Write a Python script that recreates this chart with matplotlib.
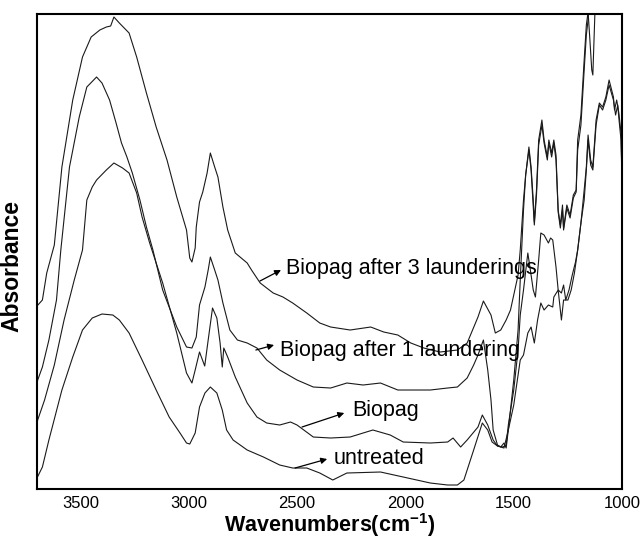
import matplotlib
matplotlib.use('Agg')
import matplotlib.pyplot as plt

plt.rcParams['font.family'] = ['Liberation Sans', 'DejaVu Sans']
plt.rcParams['mathtext.fontset'] = 'custom'
plt.rcParams['mathtext.rm'] = 'Liberation Sans'
plt.rcParams['mathtext.bf'] = 'Liberation Sans:bold'

# FTIR spectra (wavenumber in cm-1, absorbance in arbitrary units)
wn_laund3 = [3700, 3675, 3655, 3620, 3585, 3535, 3490, 3450, 3410, 3380, 3360, 3345, 3320, 3275,
             3240, 3195, 3150, 3100, 3055, 3010, 2995, 2985, 2970, 2965, 2950, 2935, 2915, 2900,
             2880, 2865, 2842, 2820, 2785, 2730, 2710, 2670, 2610, 2565, 2520, 2455, 2395, 2345,
             2255, 2160, 2100, 2035, 1975, 1915, 1840, 1760, 1715, 1665, 1640, 1605, 1585, 1560,
             1535, 1515, 1500, 1480, 1470, 1455, 1445, 1430, 1420, 1410, 1405, 1395, 1385, 1370,
             1360, 1345, 1338, 1325, 1315, 1305, 1295, 1285, 1275, 1270, 1255, 1240, 1225, 1212,
             1205, 1190, 1175, 1165, 1157, 1150, 1140, 1135, 1125, 1110, 1060, 1000]
ab_laund3 = [1.83, 1.89, 2.16, 2.44, 3.22, 3.89, 4.32, 4.52, 4.59, 4.62, 4.63, 4.72, 4.66, 4.56,
             4.32, 3.96, 3.62, 3.29, 2.92, 2.59, 2.31, 2.27, 2.41, 2.62, 2.87, 2.97, 3.16, 3.36,
             3.22, 3.12, 2.82, 2.59, 2.36, 2.26, 2.19, 2.06, 1.96, 1.92, 1.86, 1.76, 1.66, 1.62,
             1.59, 1.62, 1.57, 1.54, 1.46, 1.41, 1.37, 1.39, 1.46, 1.72, 1.88, 1.74, 1.56, 1.59,
             1.69, 1.79, 1.94, 2.14, 2.39, 2.89, 3.14, 3.42, 3.22, 2.89, 2.67, 2.99, 3.49, 3.69,
             3.49, 3.32, 3.49, 3.36, 3.49, 3.34, 2.79, 2.64, 2.84, 2.61, 2.84, 2.74, 2.94, 2.99,
             3.49, 3.74, 4.29, 4.64, 4.77, 4.54, 4.19, 4.14, 4.79, 5.20, 5.60, 5.00]

wn_laund1 = [3700, 3675, 3645, 3610, 3590, 3550, 3505, 3470, 3425, 3400, 3365, 3335, 3310, 3285,
             3260, 3225, 3195, 3165, 3120, 3055, 3010, 2985, 2965, 2950, 2925, 2910, 2900, 2880,
             2865, 2842, 2810, 2775, 2730, 2685, 2640, 2580, 2500, 2425, 2345, 2270, 2195, 2115,
             2035, 1965, 1885, 1805, 1760, 1715, 1685, 1665, 1640, 1620, 1605, 1595, 1575, 1560,
             1545, 1535, 1525, 1500, 1480, 1470, 1455, 1445, 1430, 1420, 1405, 1395, 1385, 1370,
             1360, 1345, 1338, 1325, 1315, 1305, 1295, 1285, 1275, 1270, 1255, 1240, 1225, 1212,
             1205, 1190, 1175, 1165, 1157, 1150, 1100, 1000]
ab_laund1 = [1.07, 1.22, 1.49, 1.89, 2.39, 3.22, 3.72, 4.02, 4.12, 4.06, 3.89, 3.66, 3.46, 3.32,
             3.16, 2.89, 2.62, 2.39, 1.99, 1.62, 1.42, 1.41, 1.52, 1.84, 2.02, 2.19, 2.32, 2.19,
             2.09, 1.86, 1.59, 1.49, 1.46, 1.41, 1.29, 1.19, 1.09, 1.02, 1.01, 1.06, 1.04, 1.06,
             0.99, 0.99, 0.99, 1.01, 1.02, 1.11, 1.24, 1.34, 1.49, 1.19, 0.89, 0.59, 0.44, 0.42,
             0.46, 0.41, 0.59, 1.09, 1.59, 2.09, 2.79, 3.14, 3.39, 3.19, 2.64, 2.94, 3.44, 3.64,
             3.46, 3.29, 3.46, 3.32, 3.46, 3.29, 2.77, 2.61, 2.79, 2.59, 2.81, 2.71, 2.91, 2.97,
             3.39, 3.64, 4.19, 4.54, 4.69, 4.95, 5.40, 5.20]

wn_biopag = [3700, 3665, 3620, 3575, 3528, 3490, 3470, 3445, 3425, 3380, 3345, 3305, 3275, 3240,
             3215, 3180, 3120, 3055, 3010, 2985, 2970, 2950, 2926, 2910, 2890, 2870, 2855, 2845,
             2838, 2820, 2785, 2730, 2685, 2640, 2580, 2530, 2500, 2425, 2345, 2255, 2150, 2070,
             2010, 1885, 1805, 1780, 1745, 1715, 1665, 1645, 1620, 1595, 1575, 1550, 1535, 1525,
             1500, 1480, 1470, 1455, 1435, 1420, 1410, 1400, 1385, 1375, 1360, 1340, 1330, 1320,
             1305, 1295, 1280, 1270, 1260, 1245, 1230, 1215, 1205, 1190, 1175, 1165, 1157, 1145,
             1135, 1120, 1105, 1090, 1075, 1060, 1040, 1035, 1025, 1015, 1005, 1000]
ab_biopag = [0.67, 0.89, 1.24, 1.69, 2.09, 2.39, 2.89, 3.02, 3.09, 3.19, 3.26, 3.21, 3.16, 2.96,
             2.72, 2.46, 2.06, 1.56, 1.16, 1.06, 1.19, 1.37, 1.23, 1.49, 1.81, 1.71, 1.46, 1.22,
             1.41, 1.32, 1.12, 0.86, 0.72, 0.66, 0.64, 0.67, 0.64, 0.52, 0.51, 0.52, 0.59, 0.54,
             0.47, 0.46, 0.47, 0.51, 0.42, 0.49, 0.62, 0.74, 0.64, 0.49, 0.43, 0.42, 0.44, 0.64,
             0.99, 1.39, 1.74, 1.99, 2.36, 2.14, 1.99, 1.92, 2.29, 2.56, 2.54, 2.46, 2.51, 2.49,
             2.22, 1.99, 1.96, 2.04, 1.89, 1.99, 2.14, 2.27, 2.39, 2.66, 2.99, 3.22, 3.54, 3.29,
             3.22, 3.69, 3.86, 3.82, 3.92, 4.09, 3.92, 3.79, 3.89, 3.76, 3.56, 3.06]

wn_untreated = [3700, 3675, 3645, 3585, 3535, 3490, 3445, 3400, 3350, 3320, 3275, 3215, 3150,
                3090, 3040, 3010, 2995, 2970, 2960, 2950, 2925, 2900, 2870, 2845, 2825, 2795,
                2730, 2655, 2580, 2520, 2455, 2395, 2335, 2270, 2115, 2010, 1885, 1805, 1760,
                1730, 1685, 1645, 1620, 1600, 1575, 1545, 1525, 1500, 1480, 1470, 1455, 1435,
                1420, 1405, 1390, 1375, 1360, 1340, 1320, 1315, 1295, 1280, 1270, 1250, 1235,
                1220, 1205, 1190, 1175, 1165, 1157, 1145, 1135, 1120, 1105, 1090, 1075, 1060,
                1040, 1030, 1020, 1015, 1005, 1000]
ab_untreated = [0.11, 0.22, 0.49, 0.99, 1.32, 1.59, 1.71, 1.75, 1.74, 1.69, 1.56, 1.29, 0.99,
                0.72, 0.56, 0.46, 0.45, 0.56, 0.69, 0.82, 0.96, 1.02, 0.96, 0.79, 0.59, 0.49,
                0.39, 0.32, 0.24, 0.21, 0.21, 0.16, 0.09, 0.16, 0.17, 0.12, 0.06, 0.04, 0.04,
                0.09, 0.39, 0.66, 0.59, 0.47, 0.43, 0.41, 0.59, 0.84, 1.14, 1.29, 1.34, 1.56,
                1.62, 1.46, 1.69, 1.86, 1.79, 1.84, 1.82, 1.92, 1.99, 1.69, 1.89, 1.89, 1.99,
                2.16, 2.39, 2.66, 2.89, 3.19, 3.49, 3.24, 3.19, 3.64, 3.84, 3.79, 3.89, 4.04,
                3.89, 3.74, 3.84, 3.71, 3.49, 3.04]

series = [(wn_laund3, ab_laund3), (wn_laund1, ab_laund1),
          (wn_biopag, ab_biopag), (wn_untreated, ab_untreated)]

# label text, text anchor (wn, abs), arrow tail on the curve, arrow head near the text
labels = ['Biopag after 3 launderings', 'Biopag after 1 laundering', 'Biopag', 'untreated']
label_pos = [(2551, 2.21), (2579, 1.39), (2245, 0.79), (2333, 0.31)]
arrow_tail = [(2671, 2.08), (2690, 1.39), (2477, 0.62), (2509, 0.21)]
arrow_head = [(2574, 2.19), (2606, 1.44), (2282, 0.76), (2361, 0.30)]

fig = plt.figure(figsize=(6.42, 5.41), dpi=100)
ax = fig.add_axes([0.0576, 0.0961, 0.9114, 0.878])

for wn, ab in series:
    ax.plot(wn, ab, color='#1a1a1a', lw=0.8)

for lab, pos, tail, head in zip(labels, label_pos, arrow_tail, arrow_head):
    ax.annotate('', xy=head, xytext=tail,
                arrowprops=dict(arrowstyle='-|>', color='black', lw=0.9,
                                mutation_scale=9, shrinkA=0, shrinkB=0))
    ax.text(pos[0], pos[1], lab, fontsize=15.5, ha='left', va='center')

ax.set_xlim(3700, 1000)
ax.set_ylim(0, 4.75)
ax.set_xticks([3500, 3000, 2500, 2000, 1500, 1000])
ax.set_yticks([])
ax.tick_params(axis='x', direction='in', length=0, labelsize=12, pad=5)
for s in ax.spines.values():
    s.set_linewidth(1.5)

ax.set_xlabel(r'Wavenumbers(cm$^{\mathbf{-1}}$)', fontsize=15.5, fontweight='bold', va='center')
ax.xaxis.set_label_coords(0.5, -0.076)
ax.set_ylabel('Absorbance', fontsize=16.5, fontweight='bold', va='center')
ax.yaxis.set_label_coords(-0.043, 0.469)

fig.savefig('out.png', dpi=100)
